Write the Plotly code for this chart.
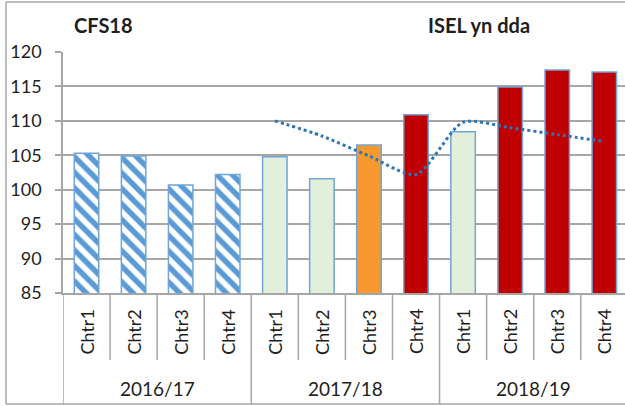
import plotly.graph_objects as go

# ---- data ----
years = ["2016/17", "2017/18", "2018/19"]
quarters = ["Chtr1", "Chtr2", "Chtr3", "Chtr4"]
values = [105.3, 104.9, 100.7, 102.2, 104.8, 101.6, 106.5, 110.9, 108.4, 114.9, 117.4, 117.1]
target = [None, None, None, None, 110.0, 107.8, 104.9, 102.2, 109.8, 109.0, 108.0, 107.0]
bar_colors = ["#FFFFFF"] * 4 + ["#E2EFDA", "#E2EFDA", "#F7992F", "#C00000",
                                "#E2EFDA", "#C00000", "#C00000", "#C00000"]
hatched = [True] * 4 + [False] * 8
y_ticks = [85, 90, 95, 100, 105, 110, 115, 120]

labels_q = [q for y in years for q in quarters]
xs = list(range(len(labels_q)))

W, H = 625, 406
L, R, T, B = 63, 0, 52, 113
PW, PH = W - L - R, H - T - B
FONT = "Lato"
GRID = "#A6A6A6"
TXT = "#1E1E1E"


def pxx(px):
    return (px - L) / PW


def pyy(py):
    return (H - B - py) / PH


hx = [x for x, h in zip(xs, hatched) if h]
hy = [v for v, h in zip(values, hatched) if h]
sx = [x for x, h in zip(xs, hatched) if not h]
sy = [v for v, h in zip(values, hatched) if not h]
sc = [c for c, h in zip(bar_colors, hatched) if not h]

fig = go.Figure()
fig.add_trace(go.Bar(
    x=hx, y=hy, width=0.52,
    marker=dict(
        color="#FFFFFF",
        line=dict(color="#6FA5D8", width=1.5),
        pattern=dict(shape="\\", fgcolor="#5B9BD5", fgopacity=1, size=11, solidity=0.5,
                     fillmode="overlay"),
    ),
    showlegend=False,
))
fig.add_trace(go.Bar(
    x=sx, y=sy, width=0.52,
    marker=dict(color=sc, line=dict(color="#6FA5D8", width=1.5)),
    showlegend=False,
))
fig.add_trace(go.Scatter(
    x=xs, y=target, mode="lines",
    line=dict(color="#2E75B6", width=3, dash="dot", shape="spline", smoothing=0.7),
    connectgaps=False, showlegend=False,
))

shapes = []
for i in range(len(xs)):
    xb = i - 0.5
    y0 = pyy(404) if i % 4 == 0 else pyy(360)
    shapes.append(dict(type="line", xref="x", yref="paper", x0=xb, x1=xb,
                       y0=y0, y1=0, line=dict(color=GRID, width=1.5)))
frame = dict(color=GRID, width=1.5)
shapes.append(dict(type="line", xref="paper", yref="paper", x0=pxx(6), x1=pxx(6),
                   y0=pyy(404), y1=pyy(2), line=frame))
shapes.append(dict(type="line", xref="paper", yref="paper", x0=pxx(6), x1=pxx(625),
                   y0=pyy(2), y1=pyy(2), line=frame))
shapes.append(dict(type="line", xref="paper", yref="paper", x0=pxx(6), x1=pxx(625),
                   y0=pyy(404), y1=pyy(404), line=frame))

annotations = []
for i, q in zip(xs, labels_q):
    annotations.append(dict(x=i, y=pyy(332), xref="x", yref="paper", text=q,
                            textangle=-90, showarrow=False,
                            xanchor="center", yanchor="middle",
                            font=dict(family=FONT, size=18, color=TXT)))
for k, yr in enumerate(years):
    annotations.append(dict(x=4 * k + 1.5, y=pyy(388), xref="x", yref="paper", text=yr,
                            showarrow=False, xanchor="center", yanchor="middle",
                            font=dict(family=FONT, size=19, color=TXT)))
annotations.append(dict(x=pxx(103), y=pyy(25), xref="paper", yref="paper", text="<b>CFS18</b>",
                        showarrow=False, xanchor="center", yanchor="middle",
                        font=dict(family=FONT, size=20, color=TXT)))
annotations.append(dict(x=pxx(479), y=pyy(25), xref="paper", yref="paper", text="<b>ISEL yn dda</b>",
                        showarrow=False, xanchor="center", yanchor="middle",
                        font=dict(family=FONT, size=20, color=TXT)))

fig.update_layout(
    width=W, height=H,
    margin=dict(l=L, r=R, t=T, b=B, pad=0),
    paper_bgcolor="white", plot_bgcolor="white",
    barmode="overlay",
    shapes=shapes, annotations=annotations,
    xaxis=dict(range=[-0.5, 11.44], showticklabels=False, showgrid=False, zeroline=False,
               showline=True, linecolor=GRID, linewidth=1.5, ticks=""),
    yaxis=dict(range=[85, 120], tickvals=y_ticks, showgrid=True, gridcolor=GRID, gridwidth=1.5,
               zeroline=False, showline=True, linecolor=GRID, linewidth=1.5,
               ticks="outside", ticklen=6, tickcolor=GRID, tickwidth=1.5,
               ticklabelstandoff=10,
               tickfont=dict(family=FONT, size=18, color=TXT)),
)

fig.write_html(
    "out.html",
    config={"displayModeBar": False},
    post_script="document.body.style.margin='0';document.body.style.overflow='hidden';",
)
